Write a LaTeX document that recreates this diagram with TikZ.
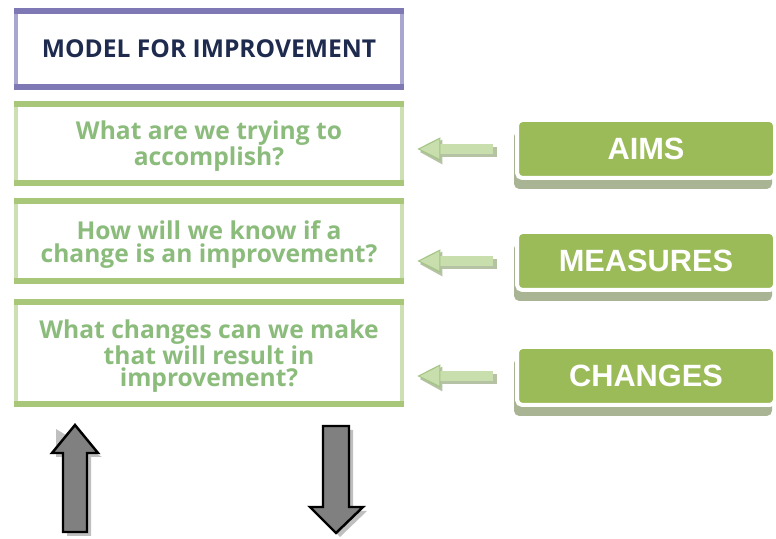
\documentclass[tikz,border=0pt]{standalone}
\usepackage{fontspec}
\setmainfont{Open Sans}
\newfontfamily\tagfont{Liberation Sans}
\usetikzlibrary{arrows.meta,positioning,shadows}
\definecolor{titleblue}{HTML}{1F2B4E}
\definecolor{framepurple}{HTML}{7E79B4}
\definecolor{framelilac}{HTML}{A9A6CF}
\definecolor{bandgreen}{HTML}{A8C779}
\definecolor{sidegreen}{HTML}{CDE0B4}
\definecolor{qtext}{HTML}{8BBC7C}
\definecolor{tagfill}{HTML}{9BBB59}
\definecolor{tagshadow}{HTML}{A8B494}
\definecolor{pointer}{HTML}{C8DEAC}
\definecolor{pointeredge}{HTML}{A3C486}
\definecolor{pointershadow}{HTML}{B5C2A3}
\tikzset{
  framed/.style 2 args={fill=#2,minimum width=7.8cm,align=center,inner sep=0pt,
    path picture={
      \fill[#1] (path picture bounding box.south west) rectangle
        ([yshift=0.12cm]path picture bounding box.south east);
      \fill[#1] (path picture bounding box.north west) rectangle
        ([yshift=-0.12cm]path picture bounding box.north east);
      \fill[white] ([shift={(0.08,0.12)}]path picture bounding box.south west) rectangle
        ([shift={(-0.08,-0.12)}]path picture bounding box.north east);}},
  titlebox/.style={framed={framepurple}{framelilac},minimum height=1.64cm,
    text=titleblue,font=\fontsize{14}{15}\selectfont\bfseries},
  question/.style={framed={bandgreen}{sidegreen},text=qtext,text depth=-0.13cm,
    font=\fontsize{14}{12.8}\selectfont\bfseries},
  tag/.style={fill=tagfill,draw=white,line width=0.08cm,rounded corners=3pt,
    minimum width=5.16cm,minimum height=1.16cm,text=white,
    font=\tagfont\fontsize{17.5}{20}\selectfont\bfseries,
    general shadow={shadow xshift=-0.06cm,shadow yshift=-0.22cm,fill=tagshadow}},
  pointer/.style={line width=0.2cm,draw=pointer,
    -{Triangle[length=0.46cm,width=0.46cm,fill=pointer,color=pointeredge,line width=0.6pt]}},
  pointershade/.style={line width=0.2cm,draw=pointershadow,
    -{Triangle[length=0.46cm,width=0.46cm,fill=pointershadow]}},
  cycle/.style={fill=gray,draw=black,line width=1.4pt,line join=miter},
  cycleshade/.style={fill=black!25}
}
\begin{document}
\begin{tikzpicture}[node distance=0.22cm]
  \useasboundingbox (0,0) rectangle (15.52,-10.78);

  \node[titlebox] (title) at (4.18,-0.98) {MODEL FOR IMPROVEMENT};
  \node[question,minimum height=1.7cm,below=0.2cm of title] (aimq)
    {What are we trying to\\accomplish?};
  \node[question,minimum height=1.72cm,below=0.24cm of aimq] (measq)
    {How will we know if a\\change is an improvement?};
  \node[question,minimum height=2.16cm,below=0.28cm of measq] (changeq)
    {What changes can we make\\that will result in\\improvement?};

  \node[tag] (aims) at (12.92,-2.98) {AIMS};
  \node[tag] (measures) at (12.92,-5.22) {MEASURES};
  \node[tag] (changes) at (12.92,-7.52) {CHANGES};

  \foreach \t/\q in {aims/aimq,measures/measq,changes/changeq}{
    \draw[pointershade] ([shift={(-0.36,-0.06)}]\t.west)
      -- ([shift={(0.3,-0.06)}]\t.west -| \q.east);
    \draw[pointer] ([xshift=-0.44cm]\t.west) -- ([xshift=0.26cm]\t.west -| \q.east);
  }

  % up and down block arrows under the questions
  \fill[cycleshade] (1.12,-8.58) -- (2.04,-9.14) -- (1.82,-9.14) -- (1.82,-10.72)
    -- (1.34,-10.72) -- (1.34,-9.14) -- (1.12,-9.14) -- cycle;
  \draw[cycle] (1.5,-8.5) -- (1.96,-9.06) -- (1.74,-9.06) -- (1.74,-10.64)
    -- (1.26,-10.64) -- (1.26,-9.06) -- (1.04,-9.06) -- cycle;
  \fill[cycleshade] (6.54,-8.6) -- (7.06,-8.6) -- (7.06,-10.22) -- (7.34,-10.22)
    -- (6.8,-10.74) -- (6.28,-10.22) -- (6.54,-10.22) -- cycle;
  \draw[cycle] (6.46,-8.52) -- (6.98,-8.52) -- (6.98,-10.14) -- (7.26,-10.14)
    -- (6.72,-10.66) -- (6.2,-10.14) -- (6.46,-10.14) -- cycle;
\end{tikzpicture}
\end{document}
